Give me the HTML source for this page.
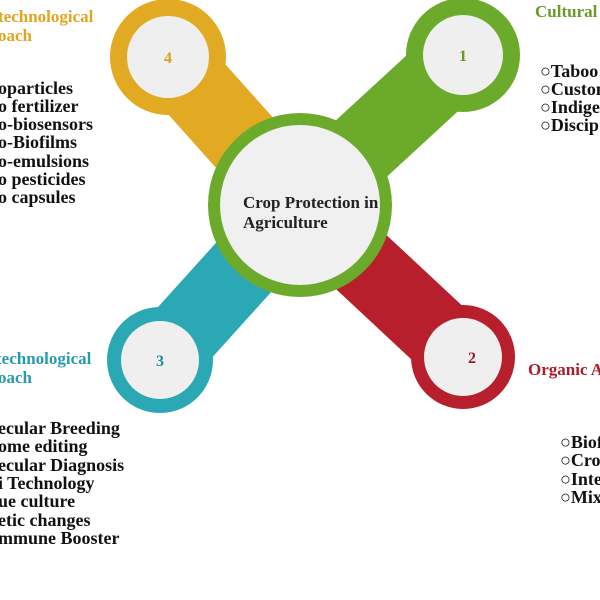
<!DOCTYPE html>
<html><head><style>body{margin:0;background:#fff}svg{display:block}</style></head>
<body>
<svg width="600" height="600" viewBox="0 0 600 600" xmlns="http://www.w3.org/2000/svg" font-family="'Liberation Serif',serif" font-weight="bold">
<rect width="600" height="600" fill="#fff"/>
<g stroke-linecap="butt">
<line x1="300" y1="205" x2="168" y2="57" stroke="#E2AA22" stroke-width="76"/>
<line x1="300" y1="205" x2="463" y2="55" stroke="#6CAA2C" stroke-width="76"/>
<line x1="300" y1="205" x2="160" y2="360" stroke="#2AA8B3" stroke-width="74"/>
<line x1="300" y1="205" x2="463" y2="357" stroke="#B81F2C" stroke-width="74"/>
</g>
<circle cx="168" cy="57" r="58" fill="#E2AA22"/>
<circle cx="463" cy="55" r="57" fill="#6CAA2C"/>
<circle cx="160" cy="360" r="53" fill="#2AA8B3"/>
<circle cx="463" cy="357" r="52" fill="#B81F2C"/>
<circle cx="168" cy="57" r="41" fill="#efefef"/>
<circle cx="463" cy="55" r="40" fill="#efefef"/>
<circle cx="160" cy="360" r="39" fill="#efefef"/>
<circle cx="463" cy="357" r="39" fill="#efefef"/>
<circle cx="300" cy="205" r="92" fill="#6CAA2C"/>
<circle cx="300" cy="205" r="80" fill="#f0f0f0"/>
<text x="168" y="63" font-size="16" fill="#D9A21E" text-anchor="middle">4</text>
<text x="463" y="61" font-size="16" fill="#5f9a25" text-anchor="middle">1</text>
<text x="160" y="366" font-size="16" fill="#1f8c99" text-anchor="middle">3</text>
<text x="472" y="363" font-size="16" fill="#9c1a25" text-anchor="middle">2</text>
<text x="243" y="208" font-size="17" fill="#222">Crop Protection in</text>
<text x="243" y="228" font-size="17" fill="#222">Agriculture</text>
<g font-size="17" fill="#E0A51E">
<text x="-2" y="22">technological</text>
<text x="-2" y="41">oach</text>
</g>
<g font-size="18" fill="#111">
<text x="-2" y="94">oparticles</text>
<text x="-2" y="112">o fertilizer</text>
<text x="-2" y="130">o-biosensors</text>
<text x="-2" y="148">o-Biofilms</text>
<text x="-2" y="167">o-emulsions</text>
<text x="-2" y="185">o pesticides</text>
<text x="-2" y="203">o capsules</text>
</g>
<g font-size="17" fill="#2A9AAE">
<text x="-4" y="364">technological</text>
<text x="-2" y="383">oach</text>
</g>
<g font-size="18" fill="#111">
<text x="-2" y="434">ecular Breeding</text>
<text x="-2" y="452">ome editing</text>
<text x="-2" y="471">ecular Diagnosis</text>
<text x="-2" y="489">i Technology</text>
<text x="-2" y="507">ue culture</text>
<text x="-2" y="526">etic changes</text>
<text x="-2" y="544">mmune Booster</text>
</g>
<text x="535" y="17" font-size="17" fill="#6A9A2A">Cultural</text>
<g font-size="18" fill="#111">
<text x="540" y="77">○Taboo</text>
<text x="540" y="95">○Custom</text>
<text x="540" y="113">○Indige</text>
<text x="540" y="131">○Discip</text>
</g>
<text x="528" y="375" font-size="17" fill="#A81E2A">Organic A</text>
<g font-size="18" fill="#111">
<text x="560" y="448">○Biof</text>
<text x="560" y="466">○Cro</text>
<text x="560" y="485">○Inte</text>
<text x="560" y="503">○Mix</text>
</g>
</svg>
</body></html>
